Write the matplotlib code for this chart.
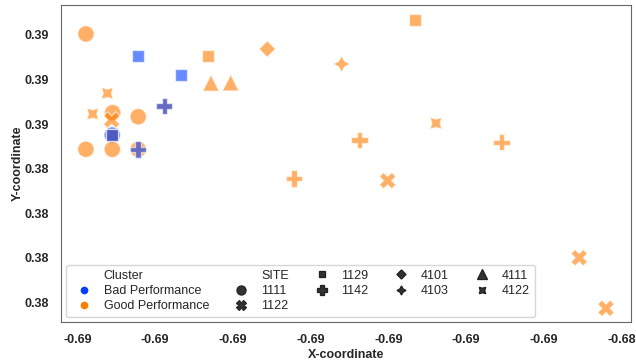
import numpy as np
import pandas as pd
import matplotlib
matplotlib.use("Agg")
import matplotlib.pyplot as plt
import matplotlib.ticker as ticker
import seaborn as sns

# site locations, listed in drawing order
x_coord = [
    -0.690552,                                                          # bad 1111
    -0.690891, -0.690547, -0.690218, -0.690891, -0.690552, -0.690218,   # good 1111
    -0.690560, -0.687008, -0.684542, -0.684198,                         # good 1122
    -0.689324, -0.686653, -0.690552,                                    # good 1129
    -0.687373, -0.685541, -0.688214, -0.689883,                         # good 1142
    -0.688557,                                                          # good 4101
    -0.687600,                                                          # good 4103
    -0.689282, -0.689028,                                               # good 4111
    -0.690616, -0.690804, -0.686386,                                    # good 4122
    -0.690218, -0.689668, -0.690552,                                    # bad 1129
    -0.689883, -0.690218,                                               # bad 1142
]
y_coord = [
    0.384755,
    0.387023, 0.385256, 0.385166, 0.384434, 0.384434, 0.384434,
    0.385092, 0.383730, 0.382001, 0.380865,
    0.386535, 0.387337, 0.384755,
    0.384643, 0.384592, 0.383783, 0.385406,
    0.386686,
    0.386349,
    0.385923, 0.385929,
    0.385691, 0.385227, 0.385018,
    0.386535, 0.386102, 0.384755,
    0.385406, 0.384434,
]
cluster = ["Bad Performance"] + ["Good Performance"] * 24 + ["Bad Performance"] * 5
site = (["1111"] + ["1111"] * 6 + ["1122"] * 4 + ["1129"] * 3 + ["1142"] * 4
        + ["4101"] + ["4103"] + ["4111"] * 2 + ["4122"] * 3
        + ["1129"] * 3 + ["1142"] * 2)

cluster_order = ["Bad Performance", "Good Performance"]
site_order = ["1111", "1122", "1129", "1142", "4101", "4103", "4111", "4122"]

x_ticks = [-0.691, -0.690, -0.689, -0.688, -0.687, -0.686, -0.685, -0.684]
y_ticks = [0.381, 0.382, 0.383, 0.384, 0.385, 0.386, 0.387]

df = pd.DataFrame({"X-coordinate": x_coord, "Y-coordinate": y_coord,
                   "Cluster": cluster, "SITE": site})

sns.set_style("white")
plt.rcParams["font.family"] = ["Liberation Sans", "DejaVu Sans"]

fig, ax = plt.subplots(figsize=(6.36, 3.62), dpi=100)
fig.subplots_adjust(left=61/636, right=631/636, bottom=1-322/362, top=1-5/362)

sns.scatterplot(data=df, x="X-coordinate", y="Y-coordinate", hue="Cluster",
                style="SITE", hue_order=cluster_order, style_order=site_order,
                palette="bright", alpha=0.6, s=140, ax=ax, legend="full")

ax.set_xlim(-0.691212, -0.683876)
ax.set_ylim(0.380558, 0.387673)
ax.xaxis.set_major_locator(ticker.FixedLocator(x_ticks))
ax.yaxis.set_major_locator(ticker.FixedLocator(y_ticks))
ax.xaxis.set_major_formatter(ticker.FormatStrFormatter("%.2f"))
ax.yaxis.set_major_formatter(ticker.FormatStrFormatter("%.2f"))
ax.tick_params(axis="both", pad=5)
for lbl in ax.get_xticklabels() + ax.get_yticklabels():
    lbl.set_fontweight("bold")
    lbl.set_fontsize(9)
ax.set_xlabel("X-coordinate", fontsize=9, fontweight="bold", labelpad=2)
ax.set_ylabel("Y-coordinate", fontsize=9, fontweight="bold", labelpad=1)

for sp in ax.spines.values():
    sp.set_color("#666666")

handles, labels = ax.get_legend_handles_labels()
for h, lab in zip(handles, labels):
    h.set_alpha(1)
    h.set_markersize(6.5)
    if lab in site_order:
        h.set_color("#222222")
        h.set_markeredgecolor("#222222")
ax.legend(handles, labels, ncol=5, loc="lower left", fontsize=9,
          borderaxespad=0.4, handletextpad=0.6, columnspacing=1.6,
          labelspacing=0.25)

fig.savefig("out.png", dpi=100)
